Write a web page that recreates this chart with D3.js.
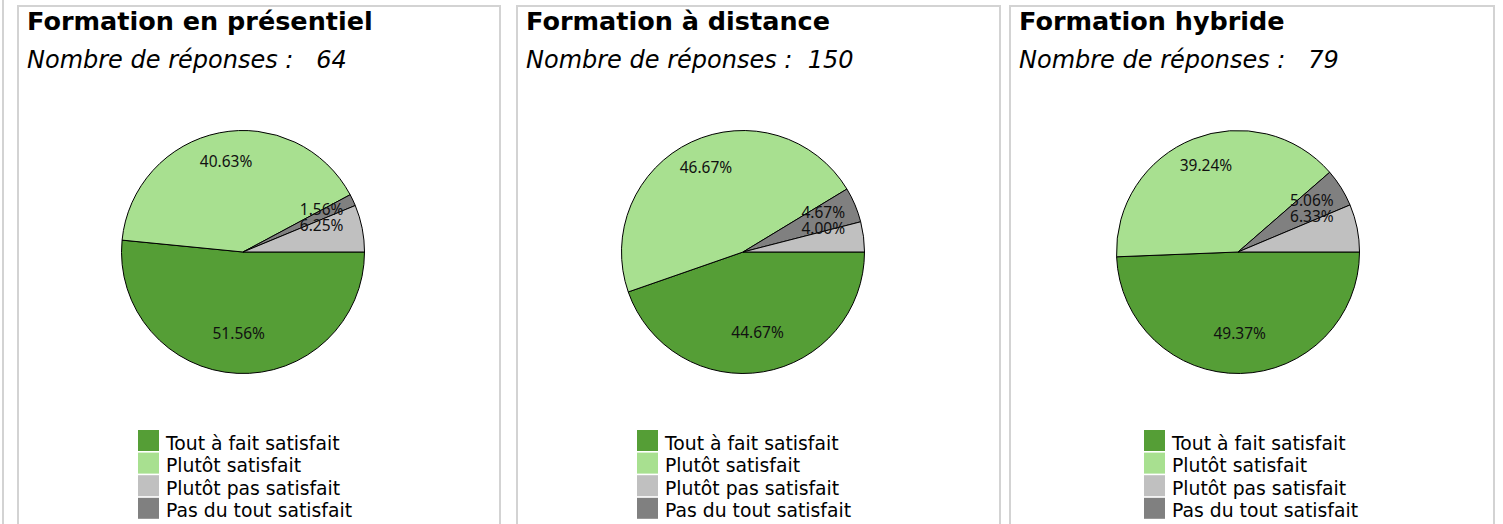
<!DOCTYPE html>
<html>
<head>
<meta charset="utf-8">
<script src="https://cdn.jsdelivr.net/npm/d3@7/dist/d3.min.js"></script>
<style>
  html, body { margin: 0; padding: 0; background: #fff; overflow: hidden; }
  svg { display: block; }
</style>
</head>
<body>
<svg id="chart" width="1503" height="524"></svg>
<script>
// ---- data ----
const categories = ["Tout à fait satisfait", "Plutôt satisfait", "Plutôt pas satisfait", "Pas du tout satisfait"];
const panelTitles = ["Formation en présentiel", "Formation à distance", "Formation hybride"];
const responseCounts = [64, 150, 79];
const presentielPct = [51.56, 40.63, 6.25, 1.56];
const distancePct = [44.67, 46.67, 4.00, 4.67];
const hybridePct = [49.37, 39.24, 6.33, 5.06];
const seriesPct = [presentielPct, distancePct, hybridePct];

// ---- style & layout ----
const colors = ["#559e36", "#a8e090", "#c0c0c0", "#808080"];
const sliceOrder = [0, 1, 3, 2];            // drawing order, clockwise from 3 o'clock
const panels = [
  { x0: 18,   x1: 500,  cx: 243,  legendX: 138 },
  { x0: 517,  x1: 1000, cx: 743,  legendX: 637 },
  { x0: 1010, x1: 1494, cx: 1238, legendX: 1144 }
];
const pieCY = 252, radius = 121.5, labelRadius = 87, labelLine = 16;
const legendTop = 430, legendStep = 22.6, swatch = 21;

const svg = d3.select("#chart");

// outer container edge
svg.append("rect").attr("x", 2).attr("y", 0).attr("width", 2).attr("height", 524).attr("fill", "#d3d3d3");

const pie = d3.pie().sort(null).value(d => d.value)
  .startAngle(Math.PI / 2).endAngle(Math.PI / 2 + 2 * Math.PI);
const arc = d3.arc().innerRadius(0).outerRadius(radius);
const labelArc = d3.arc().innerRadius(labelRadius).outerRadius(labelRadius);

panels.forEach((p, i) => {
  const g = svg.append("g");

  // panel frame (runs past the bottom edge)
  g.append("rect")
    .attr("x", p.x0).attr("y", 6)
    .attr("width", p.x1 - p.x0).attr("height", 600)
    .attr("fill", "none").attr("stroke", "#d3d3d3").attr("stroke-width", 2);

  g.append("text")
    .attr("x", p.x0 + 9).attr("y", 30)
    .attr("font-family", "DejaVu Sans").attr("font-weight", "bold").attr("font-size", 25.5)
    .attr("fill", "#000")
    .text(panelTitles[i]);

  const countStr = String(responseCounts[i]).padStart(4, " ");
  g.append("text")
    .attr("x", p.x0 + 9).attr("y", 68)
    .attr("font-family", "DejaVu Sans").attr("font-style", "italic").attr("font-size", 24)
    .attr("fill", "#000")
    .style("white-space", "pre")
    .text("Nombre de réponses : " + countStr);

  const data = sliceOrder.map(k => ({ key: k, value: seriesPct[i][k] }));
  const arcs = pie(data);

  const pg = g.append("g").attr("transform", `translate(${p.cx},${pieCY})`);
  pg.selectAll("path").data(arcs).join("path")
    .attr("d", arc)
    .attr("fill", d => colors[d.data.key])
    .attr("stroke", "#000").attr("stroke-width", 1).attr("stroke-linejoin", "round");

  // labels at the slice centroid, stacked when neighbours crowd each other
  const labels = arcs.map(d => {
    const c = labelArc.centroid(d);
    return { x: c[0], y: c[1], text: d.data.value.toFixed(2) + "%" };
  });
  for (let j = 1; j < labels.length; j++) {
    const prev = labels[j - 1], cur = labels[j];
    if (Math.abs(prev.x - cur.x) < 44 && Math.abs(prev.y - cur.y) < 2 * labelLine) {
      const upper = prev.y < cur.y ? prev : cur;
      const lower = upper === prev ? cur : prev;
      lower.x = upper.x;
      lower.y = upper.y + labelLine;
    }
  }
  pg.selectAll("text").data(labels).join("text")
    .attr("x", d => d.x).attr("y", d => d.y)
    .attr("text-anchor", "middle")
    .attr("font-family", "Noto Sans").attr("font-size", 15.5)
    .attr("fill", "#111")
    .text(d => d.text);

  // legend
  const lg = g.append("g").attr("transform", `translate(${p.legendX},${legendTop})`);
  const rows = lg.selectAll("g").data(categories).join("g")
    .attr("transform", (d, k) => `translate(0,${k * legendStep})`);
  rows.append("rect")
    .attr("width", swatch).attr("height", swatch)
    .attr("fill", (d, k) => colors[k]);
  rows.append("text")
    .attr("x", 28).attr("y", 19.5)
    .attr("font-family", "DejaVu Sans").attr("font-size", 18.8)
    .attr("fill", "#000")
    .text(d => d);
});
</script>
</body>
</html>
